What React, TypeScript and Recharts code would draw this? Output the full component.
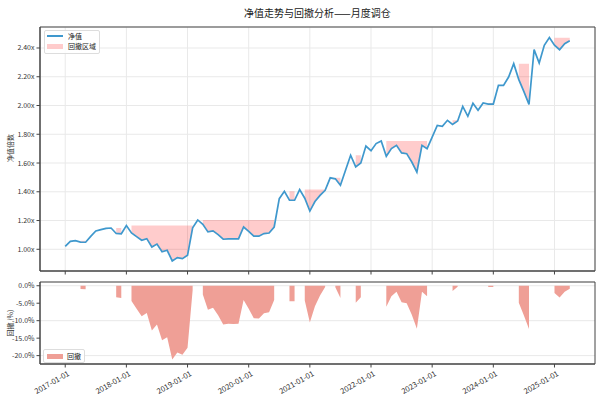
import React from "react";
import {
  ComposedChart,
  Line,
  Area,
  XAxis,
  YAxis,
  CartesianGrid,
  ReferenceArea,
} from "recharts";

// 月度净值，2017-01 起
const navValues = [
  1.02, 1.055, 1.06, 1.05, 1.049, 1.09, 1.127, 1.137, 1.145, 1.148, 1.11, 1.108,
  1.165, 1.114, 1.088, 1.063, 1.074, 1.016, 1.036, 0.983, 0.993, 0.919, 0.942, 0.935,
  0.958, 1.15, 1.204, 1.174, 1.121, 1.128, 1.102, 1.07, 1.073, 1.072, 1.073, 1.155,
  1.125, 1.092, 1.091, 1.109, 1.113, 1.155, 1.352, 1.403, 1.341, 1.341, 1.415, 1.355,
  1.266, 1.332, 1.375, 1.41, 1.497, 1.49, 1.445, 1.55, 1.654, 1.573, 1.6, 1.718,
  1.686, 1.735, 1.753, 1.647, 1.7, 1.723, 1.67, 1.665, 1.607, 1.537, 1.723, 1.7,
  1.78, 1.862, 1.855, 1.897, 1.869, 1.892, 1.994, 1.925, 2.015, 1.967, 2.018, 2.01,
  2.01, 2.14, 2.14, 2.198, 2.291, 2.18, 2.096, 2.008, 2.389, 2.296, 2.419, 2.472,
  2.42, 2.388, 2.43, 2.45,
];

const tickMonths = [0, 12, 24, 36, 48, 60, 72, 84, 96];
const tickLabels = [
  "2017-01-01",
  "2018-01-01",
  "2019-01-01",
  "2020-01-01",
  "2021-01-01",
  "2022-01-01",
  "2023-01-01",
  "2024-01-01",
  "2025-01-01",
];
const navTicks = [1.0, 1.2, 1.4, 1.6, 1.8, 2.0, 2.2, 2.4];
const ddTicks = [0, -5, -10, -15, -20];

const xDomain: [number, number] = [-4.95, 103.95];
const navDomain: [number, number] = [0.849, 2.546];
const ddDomain: [number, number] = [-22.4, 1.07];

const FONT = "'Noto Sans CJK SC', 'DejaVu Sans', sans-serif";
const LINE_COLOR = "#3f98cd";
const SHADE_COLOR = "#ff0000";
const DD_COLOR = "#ef9f96";
const FRAME = "#444";

let peak = -Infinity;
const rows = navValues.map((nav, i) => {
  peak = Math.max(peak, nav);
  const under = nav < peak;
  return {
    i,
    nav,
    band: under ? [nav, peak] : null,
    dd: under ? (nav / peak - 1) * 100 : null,
  };
});

const labelFor = (v: number) => tickLabels[tickMonths.indexOf(v)] ?? "";

function DateTick(props: any) {
  const { x, y, payload } = props;
  return (
    <text
      x={x + 2}
      y={y}
      transform={`rotate(-30 ${x + 2} ${y})`}
      textAnchor="end"
      dy="0.71em"
      fontSize={7.5}
      fill="#333"
      fontFamily={FONT}
    >
      {labelFor(payload.value)}
    </text>
  );
}

export default function App() {
  return (
    <div
      style={{
        position: "fixed",
        left: 0,
        top: 0,
        width: 600,
        height: 397,
        background: "#fff",
        fontFamily: FONT,
      }}
    >
      <div
        style={{
          position: "absolute",
          top: 5,
          left: 40,
          width: 555,
          textAlign: "center",
          fontSize: 10,
          color: "#222",
        }}
      >
        净值走势与回撤分析——月度调仓
      </div>

      <div style={{ position: "absolute", left: 0, top: 0 }}>
        <ComposedChart
          width={600}
          height={285}
          data={rows}
          margin={{ top: 27, right: 5, bottom: 0, left: 0 }}
        >
          <CartesianGrid stroke="#e9e9e9" />
          <XAxis
            dataKey="i"
            type="number"
            domain={xDomain}
            ticks={tickMonths}
            tickFormatter={() => ""}
            height={14}
            tickSize={3.5}
            tickLine={{ stroke: FRAME }}
            axisLine={{ stroke: FRAME }}
            allowDataOverflow
          />
          <YAxis
            type="number"
            domain={navDomain}
            ticks={navTicks}
            width={40}
            tickSize={3.5}
            tickMargin={2}
            tickFormatter={(v: number) => v.toFixed(2) + "x"}
            tick={{ fontSize: 7, fill: "#333", fontFamily: FONT }}
            tickLine={{ stroke: FRAME }}
            axisLine={{ stroke: FRAME }}
            allowDataOverflow
          />
          <Area
            dataKey="band"
            type="linear"
            stroke="none"
            fill={SHADE_COLOR}
            fillOpacity={0.2}
            connectNulls={false}
            isAnimationActive={false}
            dot={false}
            activeDot={false}
          />
          <Line
            dataKey="nav"
            type="linear"
            stroke={LINE_COLOR}
            strokeWidth={1.7}
            dot={false}
            activeDot={false}
            isAnimationActive={false}
          />
          <ReferenceArea
            x1={xDomain[0]}
            x2={xDomain[1]}
            y1={navDomain[0]}
            y2={navDomain[1]}
            fill="none"
            stroke={FRAME}
            strokeWidth={1}
          />
        </ComposedChart>
      </div>

      <div style={{ position: "absolute", left: 0, top: 270 }}>
        <ComposedChart
          width={600}
          height={127}
          data={rows}
          margin={{ top: 12, right: 5, bottom: 0, left: 0 }}
        >
          <CartesianGrid stroke="#e9e9e9" vertical={false} />
          <XAxis
            dataKey="i"
            type="number"
            domain={xDomain}
            ticks={tickMonths}
            height={33}
            tickSize={3.5}
            tickMargin={3}
            tick={<DateTick />}
            tickLine={{ stroke: FRAME }}
            axisLine={{ stroke: FRAME }}
            interval={0}
            allowDataOverflow
          />
          <YAxis
            type="number"
            domain={ddDomain}
            ticks={ddTicks}
            width={40}
            tickSize={3.5}
            tickMargin={2}
            tickFormatter={(v: number) => v.toFixed(1) + "%"}
            tick={{ fontSize: 7, fill: "#333", fontFamily: FONT }}
            tickLine={{ stroke: FRAME }}
            axisLine={{ stroke: FRAME }}
            allowDataOverflow
          />
          <Area
            dataKey="dd"
            type="linear"
            baseValue={0}
            stroke="none"
            fill={DD_COLOR}
            fillOpacity={1}
            connectNulls={false}
            isAnimationActive={false}
            dot={false}
            activeDot={false}
          />
          <ReferenceArea
            x1={xDomain[0]}
            x2={xDomain[1]}
            y1={ddDomain[0]}
            y2={ddDomain[1]}
            fill="none"
            stroke={FRAME}
            strokeWidth={1}
          />
        </ComposedChart>
      </div>

      {/* y-axis titles */}
      <div
        style={{
          position: "absolute",
          left: 10,
          top: 148,
          fontSize: 7,
          color: "#333",
          transform: "translate(-50%, -50%) rotate(-90deg)",
          whiteSpace: "nowrap",
        }}
      >
        净值倍数
      </div>
      <div
        style={{
          position: "absolute",
          left: 10,
          top: 323,
          fontSize: 7,
          color: "#333",
          transform: "translate(-50%, -50%) rotate(-90deg)",
          whiteSpace: "nowrap",
        }}
      >
        回撤 (%)
      </div>

      {/* top legend */}
      <div
        style={{
          position: "absolute",
          left: 44,
          top: 30,
          width: 54,
          height: 22,
          border: "1px solid #ddd",
          borderRadius: 2,
          background: "rgba(255,255,255,0.85)",
          fontSize: 7,
          color: "#222",
        }}
      >
        <div style={{ position: "absolute", left: 2, top: 4, width: 16, height: 2, background: LINE_COLOR }} />
        <div style={{ position: "absolute", left: 23, top: 0, lineHeight: "10px" }}>净值</div>
        <div style={{ position: "absolute", left: 2, top: 13, width: 16, height: 5, background: "rgba(255,0,0,0.2)" }} />
        <div style={{ position: "absolute", left: 23, top: 10, lineHeight: "10px" }}>回撤区域</div>
      </div>

      {/* bottom legend */}
      <div
        style={{
          position: "absolute",
          left: 43,
          top: 349,
          width: 40,
          height: 12,
          border: "1px solid #ddd",
          borderRadius: 2,
          background: "rgba(255,255,255,0.85)",
          fontSize: 7,
          color: "#222",
        }}
      >
        <div style={{ position: "absolute", left: 3, top: 4, width: 16, height: 5, background: DD_COLOR }} />
        <div style={{ position: "absolute", left: 23, top: 1, lineHeight: "10px" }}>回撤</div>
      </div>
    </div>
  );
}
